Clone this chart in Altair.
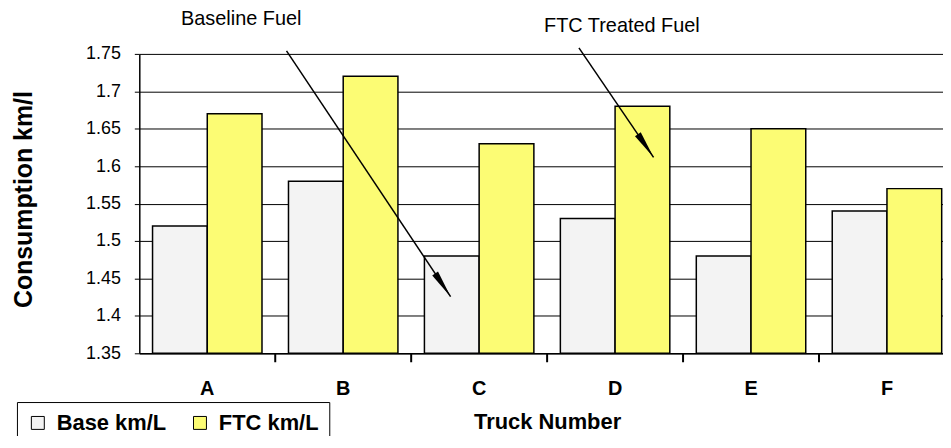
import math
import altair as alt
import pandas as pd

# ---------------- data ----------------
trucks = ["A", "B", "C", "D", "E", "F"]
base_vals = [1.52, 1.58, 1.48, 1.53, 1.48, 1.54]
ftc_vals = [1.67, 1.72, 1.63, 1.68, 1.65, 1.57]
series = ["Base km/L", "FTC km/L"]
series_colors = ["#f3f3f3", "#fcfc74"]
y_ticks = [1.35, 1.4, 1.45, 1.5, 1.55, 1.6, 1.65, 1.7, 1.75]

# annotations (x in truck-index units, y in data units)
note_text = ["Baseline Fuel", "FTC Treated Fuel"]
note_x = [0.75, 3.55]
note_y = [1.797, 1.787]
arrow_x1 = [1.083, 3.234]
arrow_y1 = [1.754, 1.758]
arrow_x2 = [2.290, 3.783]
arrow_y2 = [1.4257, 1.6118]

# ---------------- layout ----------------
FONT = "Liberation Sans"
PLOT_W = 808
PLOT_H = 301
X_RANGE = 820
Y_MIN, Y_MAX = 1.35, 1.75
STEP = X_RANGE / len(trucks)
PY = PLOT_H / (Y_MAX - Y_MIN)
HEAD = 28
TICK_LEN = 9

bars = pd.DataFrame({
    "truck": trucks * 2,
    "series": [series[0]] * len(trucks) + [series[1]] * len(trucks),
    "value": base_vals + ftc_vals,
})

notes = pd.DataFrame({"text": note_text, "x": note_x, "y": note_y})

# category boundaries for the x-axis tick marks
bounds = pd.DataFrame({"b": list(range(1, len(trucks)))})

rows = []
for x1, y1, x2, y2 in zip(arrow_x1, arrow_y1, arrow_x2, arrow_y2):
    dxp = (x2 - x1) * STEP
    dyp = (y1 - y2) * PY
    ln = math.hypot(dxp, dyp)
    ang = math.degrees(math.atan2(dxp, -dyp))
    hx = x2 - (HEAD / 2) * (dxp / ln) / STEP
    hy = y2 + (HEAD / 2) * (dyp / ln) / PY
    rows.append({"x1": x1, "y1": y1, "x2": x2, "y2": y2,
                 "hx": hx, "hy": hy, "ang": ang})
arrows = pd.DataFrame(rows)

yscale = alt.Scale(domain=[Y_MIN, Y_MAX], zero=False, nice=False)
qx = alt.Scale(domain=[0, len(trucks)], range=[0, X_RANGE], nice=False, zero=False)

bar_layer = alt.Chart(bars).mark_bar(stroke="black", strokeWidth=1.5).encode(
    x=alt.X("truck:N",
            scale=alt.Scale(domain=trucks, range=[0, X_RANGE],
                            paddingInner=0, paddingOuter=0),
            axis=alt.Axis(
                title="Truck Number", ticks=False,
                labelAngle=0,
                labelFont=FONT, labelFontSize=20, labelFontWeight="bold",
                labelColor="black", labelPadding=25,
                domainColor="black", domainWidth=1.5, grid=False,
                titleFont=FONT, titleFontSize=22, titleFontWeight="bold",
                titleColor="black", titleX=410, titleY=59,
                titleBaseline="top")),
    xOffset=alt.XOffset("series:N",
                        scale=alt.Scale(domain=series, paddingInner=0,
                                        paddingOuter=0.242)),
    y=alt.Y("value:Q", scale=yscale,
            axis=alt.Axis(
                title="Consumption km/l", values=y_ticks, format=".2~f",
                tickCount=len(y_ticks) + 2, labelOverlap=False,
                grid=True, gridColor="black", gridWidth=1, gridOpacity=1,
                domainColor="black", domainWidth=1.5,
                tickColor="black", tickSize=5, tickWidth=1,
                labelFont=FONT, labelFontSize=18, labelColor="black",
                labelPadding=14,
                titleFont=FONT, titleFontSize=25, titleFontWeight="bold",
                titleColor="black", titleX=-108, titleY=146,
                titleBaseline="alphabetic")),
    y2=alt.datum(Y_MIN),
    color=alt.Color("series:N",
                    scale=alt.Scale(domain=series, range=series_colors),
                    legend=alt.Legend(
                        title=None, orient="none", legendX=-123, legendY=350,
                        direction="horizontal", symbolType="square",
                        symbolSize=169, symbolStrokeColor="black",
                        symbolStrokeWidth=1, labelFont=FONT,
                        labelFontSize=22, labelFontWeight="bold",
                        labelColor="black", padding=10, strokeColor="black",
                        fillColor="white", columnPadding=22, labelOffset=8)),
)

tick_layer = alt.Chart(bounds).mark_rule(color="black", strokeWidth=2).encode(
    x=alt.X("b:Q", scale=qx, axis=None),
    y=alt.datum(Y_MIN, scale=yscale),
    y2=alt.datum(Y_MIN - TICK_LEN / PY),
)

line_layer = alt.Chart(arrows).mark_rule(color="black", strokeWidth=1.5).encode(
    x=alt.X("x1:Q", scale=qx, axis=None),
    x2="x2:Q",
    y=alt.Y("y1:Q", scale=yscale),
    y2="y2:Q",
)

head_layer = alt.Chart(arrows).mark_point(
    filled=True, color="black", opacity=1,
    shape="M0,-1L0.25,1L-0.25,1Z", size=HEAD * HEAD,
).encode(
    x=alt.X("hx:Q", scale=qx, axis=None),
    y=alt.Y("hy:Q", scale=yscale),
    angle=alt.Angle("ang:Q", scale=None),
)

text_layer = alt.Chart(notes).mark_text(
    font=FONT, fontSize=20, color="black", align="center", baseline="middle",
).encode(
    x=alt.X("x:Q", scale=qx, axis=None),
    y=alt.Y("y:Q", scale=yscale),
    text="text:N",
)

chart = alt.layer(bar_layer, tick_layer, line_layer, head_layer,
                  text_layer).resolve_scale(
    x="independent"
).properties(
    width=PLOT_W, height=PLOT_H,
    autosize=alt.AutoSizeParams(type="none"),
    padding={"left": 132, "top": 45, "right": 0, "bottom": 82},
).configure_view(stroke=None)

chart.save("out.html", embed_options={"renderer": "svg", "actions": False})
